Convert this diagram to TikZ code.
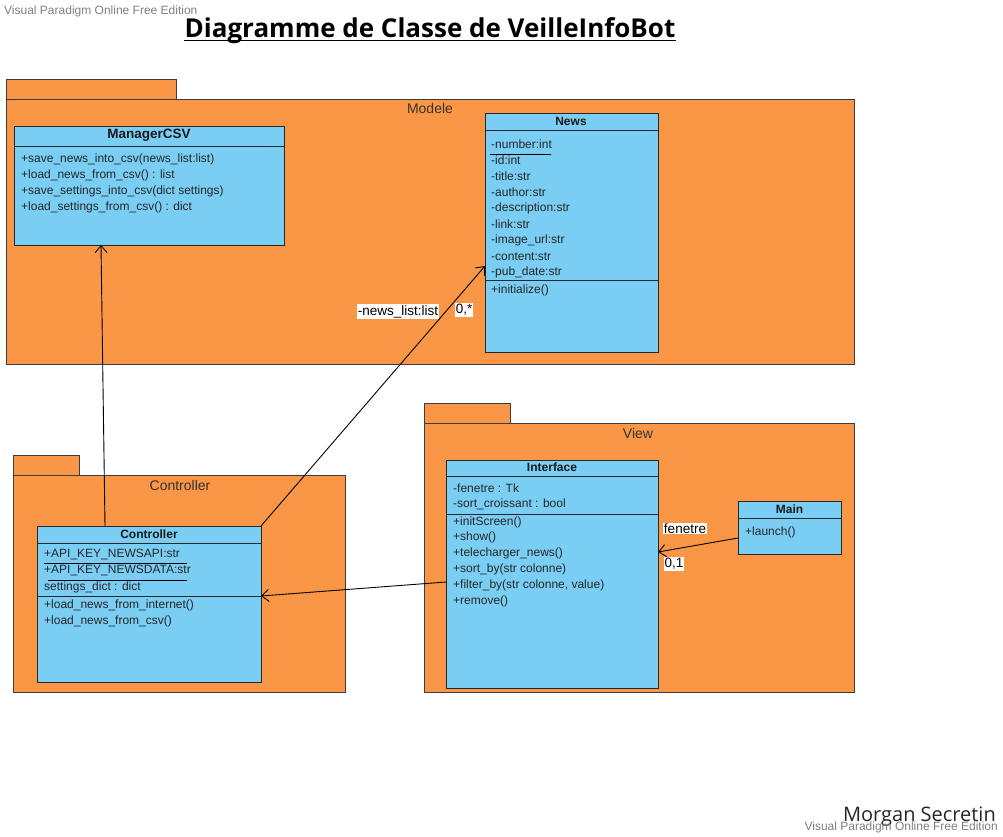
\documentclass[tikz,border=0pt]{standalone}
\usepackage{fontspec}
\setmainfont{Liberation Sans}
\newfontfamily\opensans{Open Sans}
\usetikzlibrary{arrows.meta,calc}
\definecolor{pkgorange}{HTML}{FA9746}
\definecolor{clsblue}{HTML}{7ACEF4}
\definecolor{pkgline}{HTML}{3C3C3C}
\definecolor{wmgray}{HTML}{808080}
\begin{document}
\begin{tikzpicture}[x=1pt,y=-1pt,
  pkg/.style={draw=pkgline, fill=pkgorange, line width=0.9pt, anchor=north west, inner sep=0, outer sep=0},
  cls/.style={draw=black!85, fill=clsblue, line width=0.9pt, anchor=north west, inner sep=0, outer sep=0},
  sepline/.style={draw=black!85, line width=0.9pt},
  txt/.style={anchor=west, inner sep=0, font=\fontsize{12}{14}\selectfont, text=black!85},
  ttl/.style={anchor=center, inner sep=0, font=\fontsize{12}{14}\selectfont\bfseries, text=black!90},
  pkglabel/.style={inner sep=0, font=\fontsize{14}{16}\selectfont, text=black!80},
  conn/.style={draw=black, line width=0.9pt},
  arr/.style={conn, -{Straight Barb[length=7pt,width=12pt]}},
  lbl/.style={fill=white, inner sep=1pt, font=\fontsize{13.5}{15}\selectfont},
  wm/.style={inner sep=0, text=wmgray, font=\fontsize{12}{14}\selectfont},
]
\useasboundingbox (0,0) rectangle (1003,836);

% watermark and title
\node[wm, anchor=west] (wm1) at (4,11) {Visual Paradigm Online Free Edition};
\node[anchor=base, inner sep=0, font=\opensans\bfseries\fontsize{26}{30}\selectfont] (title) at (430,37) {Diagramme de Classe de VeilleInfoBot};
\draw[line width=1.6pt] ([yshift=-3.5pt]title.base west) -- ([yshift=-3.5pt]title.base east);

% ---------------- Modele package
\node[pkg, minimum width=170, minimum height=20] (modtab) at (6,79) {};
\node[pkg, minimum width=848, minimum height=265] (modele) at (6,99) {};
\node[pkglabel] (modlbl) at (430,108) {Modele};

% ManagerCSV
\node[cls, minimum width=270, minimum height=119] (mcsv) at (14,126) {};
\draw[sepline] (14,146) -- (284,146);
\node[ttl, font=\fontsize{13.5}{15}\selectfont\bfseries] (mcsvt) at (149,135.5) {ManagerCSV};
\node[txt] (m1) at (21,159.5) {+save\_news\_into\_csv(news\_list:list)};
\node[txt] (m2) at (21,175.5) {+load\_news\_from\_csv() : list};
\node[txt] (m3) at (21,191.5) {+save\_settings\_into\_csv(dict settings)};
\node[txt] (m4) at (21,207.5) {+load\_settings\_from\_csv() : dict};

% News
\node[cls, minimum width=173, minimum height=239] (news) at (485,113) {};
\draw[sepline] (485,130) -- (658,130);
\draw[sepline] (485,280) -- (658,280);
\node[ttl] (newst) at (571,121.5) {News};
\node[txt] (n1) at (491,144.5) {-number:int};
\draw[line width=0.8pt] (490,154) -- (551,154);
\node[txt] (n2) at (491,160.5) {-id:int};
\node[txt] (n3) at (491,176.5) {-title:str};
\node[txt] (n4) at (491,192.5) {-author:str};
\node[txt] (n5) at (491,208.5) {-description:str};
\node[txt] (n6) at (491,224.5) {-link:str};
\node[txt] (n7) at (491,240.5) {-image\_url:str};
\node[txt] (n8) at (491,256.5) {-content:str};
\node[txt] (n9) at (491,272.5) {-pub\_date:str};
\node[txt] (n10) at (491,290.5) {+initialize()};

% ---------------- Controller package
\node[pkg, minimum width=66, minimum height=20] (ctab) at (13,455) {};
\node[pkg, minimum width=332, minimum height=217] (cpkg) at (13,475) {};
\node[pkglabel] (clbl) at (180,485) {Controller};

\node[cls, minimum width=224, minimum height=156] (ctrl) at (37,526) {};
\draw[sepline] (37,543) -- (261,543);
\draw[sepline] (37,596) -- (261,596);
\node[ttl] (ctrlt) at (149,534.5) {Controller};
\node[txt] (c1) at (44,554) {+API\_KEY\_NEWSAPI:str};
\draw[line width=0.8pt] (44,563) -- (187,563);
\node[txt] (c2) at (44,570.5) {+API\_KEY\_NEWSDATA:str};
\draw[line width=0.8pt] (48,580) -- (187,580);
\node[txt] (c3) at (44,587) {settings\_dict : dict};
\node[txt] (c4) at (44,605) {+load\_news\_from\_internet()};
\node[txt] (c5) at (44,621) {+load\_news\_from\_csv()};

% ---------------- View package
\node[pkg, minimum width=86, minimum height=20] (vtab) at (424,403) {};
\node[pkg, minimum width=430, minimum height=269] (vpkg) at (424,423) {};
\node[pkglabel] (vlbl) at (638,433) {View};

\node[cls, minimum width=212, minimum height=228] (iface) at (446,460) {};
\draw[sepline] (446,476) -- (658,476);
\draw[sepline] (446,514) -- (658,514);
\node[ttl] (ifacet) at (552,467.5) {Interface};
\node[txt] (i1) at (453,488) {-fenetre : Tk};
\node[txt] (i2) at (453,504) {-sort\_croissant : bool};
\node[txt] (i3) at (453,522) {+initScreen()};
\node[txt] (i4) at (453,537.5) {+show()};
\node[txt] (i5) at (453,553.5) {+telecharger\_news()};
\node[txt] (i6) at (453,569.5) {+sort\_by(str colonne)};
\node[txt] (i7) at (453,585.5) {+filter\_by(str colonne, value)};
\node[txt] (i8) at (453,601.5) {+remove()};

\node[cls, minimum width=103, minimum height=53] (main) at (738,501) {};
\draw[sepline] (738,518) -- (841,518);
\node[ttl] (maint) at (789.5,509) {Main};
\node[txt] (mn1) at (745,532) {+launch()};

% ---------------- connectors
\draw[arr] ([xshift=68pt]ctrl.north west) -- ([xshift=87pt]mcsv.south west);
\draw[arr] (ctrl.north east) -- ([yshift=-153pt]news.north west);
\draw[arr] ([yshift=-122pt]iface.north west) -- ([yshift=-70pt]ctrl.north east);
\draw[arr] ([yshift=-37pt]main.north west) -- ([yshift=-92pt]iface.north east);

\node[lbl] (nl) at (398,311.5) {-news\_list:list};
\node[lbl] (ns) at (464,310) {0,*};
\node[lbl] (fl) at (685,528.5) {fenetre};
\node[lbl] (zl) at (674,564) {0,1};

% footer
\node[anchor=east, inner sep=0, text=black!85, font=\opensans\fontsize{20}{22}\selectfont] (author) at (996,817) {Morgan Secretin};
\node[wm, anchor=east] (wm2) at (998,827.5) {Visual Paradigm Online Free Edition};
\end{tikzpicture}
\end{document}
